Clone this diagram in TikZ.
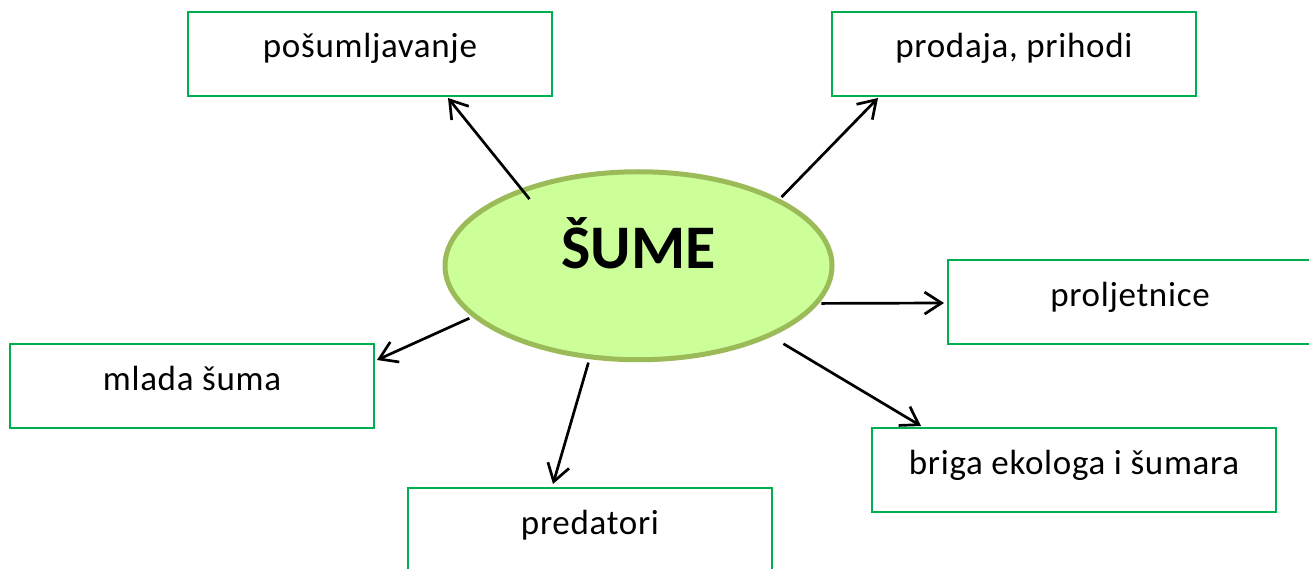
\documentclass[tikz,border=0pt]{standalone}
\usepackage{fontspec}
\setmainfont{Carlito}
\newfontfamily\boxfont{Carlito}[LetterSpace=2]
\usetikzlibrary{arrows.meta,shapes.geometric}

\definecolor{boxgreen}{RGB}{0,176,80}
\definecolor{hubfill}{RGB}{204,255,153}
\definecolor{hubline}{RGB}{155,187,89}

\tikzset{
  topic/.style={draw=boxgreen, line width=1.5pt, rectangle, inner sep=0pt, outer sep=0pt,
    minimum width=364pt, minimum height=84pt, text height=46pt, text depth=38pt,
    font=\boxfont\fontsize{35}{42}\selectfont},
  hub/.style={ellipse, draw=hubline, fill=hubfill, line width=5pt, inner sep=0pt, outer sep=0pt,
    minimum width=387pt, minimum height=188pt, text height=20pt, text depth=13.5pt,
    font=\bfseries\fontsize{62}{70}\selectfont},
  link/.style={line width=2.7pt, -{Straight Barb[length=17pt,width=22pt,line width=2.7pt]}}
}

\begin{document}
\begin{tikzpicture}[x=1pt,y=-1pt]
  \clip (0,0) rectangle (1309,569);

  % central topic
  \node[hub] (e) at (638.5,265.75) {ŠUME};

  % surrounding topics
  \node[topic] (po) at (370,54) {pošumljavanje};
  \node[topic] (pr) at (1014,54) {prodaja, prihodi};
  \node[topic] (pl) at (1130,302) {proljetnice};
  \node[topic] (ml) at (192,386) {mlada šuma};
  \node[topic] (pd) at (590,530) {predatori};
  \node[topic, minimum width=404pt] (br) at (1074,470) {briga ekologa i šumara};

  % arrows from the centre to each topic
  \draw[link, shorten <=-11pt] (e.147.6) -- ([xshift=78pt,yshift=-2pt]po.south);
  \draw[link, shorten <=4.9pt] (e.25.17) -- ([xshift=-136pt,yshift=-2pt]pr.south);
  \draw[link, shorten <=5.6pt] (e.-12.5) -- ([xshift=-4pt,yshift=-1pt]pl.west);
  \draw[link, shorten <=16.8pt] (e.-28.6) -- ([xshift=-153pt,yshift=2pt]br.north);
  \draw[link, shorten <=6.1pt] (e.-118.6) -- ([xshift=-37pt,yshift=4pt]pd.north);
  \draw[link, shorten <=5.9pt] (e.-163) -- ([xshift=3pt,yshift=26pt]ml.east);
\end{tikzpicture}
\end{document}
